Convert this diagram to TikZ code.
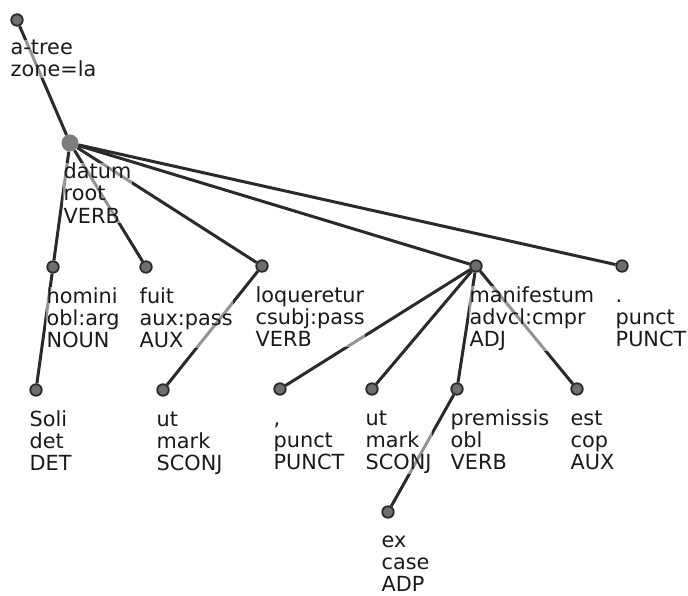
\documentclass[tikz,border=0pt]{standalone}
\usepackage{fontspec}
\setmainfont{DejaVu Sans}
\definecolor{edgegray}{HTML}{2A2A2A}
\definecolor{tokengray}{HTML}{6E6E6E}
\definecolor{labelgray}{HTML}{1A1A1A}
\tikzset{
    tok/.style={circle, draw=edgegray, fill=tokengray, line width=1.8pt, inner sep=0pt, minimum size=11.5pt},
    roottok/.style={circle, fill=tokengray!90, inner sep=0pt, minimum size=17pt},
    lbl/.style={anchor=base west, align=left, inner sep=0.5pt, fill=white, fill opacity=0.5, text opacity=1,
        text=labelgray, font=\fontsize{20.8}{22}\selectfont},
    dep/.style={draw=edgegray, line width=3pt}
}

\begin{document}
\begin{tikzpicture}[x=1pt, y=-1pt]
            \useasboundingbox (0, 0) rectangle (688, 596);
            \node[tok] (tree) at (17, 20) {};
            \node[roottok] (datum) at (70, 143) {};
            \node[tok] (homini) at (53, 267) {};
            \node[tok] (fuit) at (146, 267) {};
            \node[tok] (loqueretur) at (262, 266) {};
            \node[tok] (manifestum) at (476, 266) {};
            \node[tok] (period) at (622, 266) {};
            \node[tok] (soli) at (36, 390) {};
            \node[tok] (utA) at (163, 390) {};
            \node[tok] (comma) at (280, 389) {};
            \node[tok] (utB) at (372, 389) {};
            \node[tok] (premissis) at (457, 389) {};
            \node[tok] (est) at (577, 389) {};
            \node[tok] (ex) at (388, 512) {};
            \draw[dep] (tree) -- (datum);
            \draw[dep] (datum) -- (homini);
            \draw[dep] (datum) -- (fuit);
            \draw[dep] (datum) -- (loqueretur);
            \draw[dep] (datum) -- (manifestum);
            \draw[dep] (datum) -- (period);
            \draw[dep] (homini) -- (soli);
            \draw[dep] (loqueretur) -- (utA);
            \draw[dep] (manifestum) -- (comma);
            \draw[dep] (manifestum) -- (utB);
            \draw[dep] (manifestum) -- (premissis);
            \draw[dep] (manifestum) -- (est);
            \draw[dep] (premissis) -- (ex);
            \node[lbl] (tree-t) at ([xshift=-7pt, yshift=-57pt]tree.center) {a-tree\\zone=la};
            \node[lbl] (datum-t) at ([xshift=-7pt, yshift=-80pt]datum.center) {datum\\root\\VERB};
            \node[lbl] (homini-t) at ([xshift=-7pt, yshift=-80pt]homini.center) {homini\\obl:arg\\NOUN};
            \node[lbl] (fuit-t) at ([xshift=-7pt, yshift=-80pt]fuit.center) {fuit\\aux:pass\\AUX};
            \node[lbl] (loqueretur-t) at ([xshift=-7pt, yshift=-80pt]loqueretur.center) {loqueretur\\csubj:pass\\VERB};
            \node[lbl] (manifestum-t) at ([xshift=-7pt, yshift=-80pt]manifestum.center) {manifestum\\advcl:cmpr\\ADJ};
            \node[lbl] (period-t) at ([xshift=-7pt, yshift=-80pt]period.center) {.\\punct\\PUNCT};
            \node[lbl] (soli-t) at ([xshift=-7pt, yshift=-80pt]soli.center) {Soli\\det\\DET};
            \node[lbl] (utA-t) at ([xshift=-7pt, yshift=-80pt]utA.center) {ut\\mark\\SCONJ};
            \node[lbl] (comma-t) at ([xshift=-7pt, yshift=-80pt]comma.center) {,\\punct\\PUNCT};
            \node[lbl] (utB-t) at ([xshift=-7pt, yshift=-80pt]utB.center) {ut\\mark\\SCONJ};
            \node[lbl] (premissis-t) at ([xshift=-7pt, yshift=-80pt]premissis.center) {premissis\\obl\\VERB};
            \node[lbl] (est-t) at ([xshift=-7pt, yshift=-80pt]est.center) {est\\cop\\AUX};
            \node[lbl] (ex-t) at ([xshift=-7pt, yshift=-79pt]ex.center) {ex\\case\\ADP};
        \end{tikzpicture}
\end{document}
